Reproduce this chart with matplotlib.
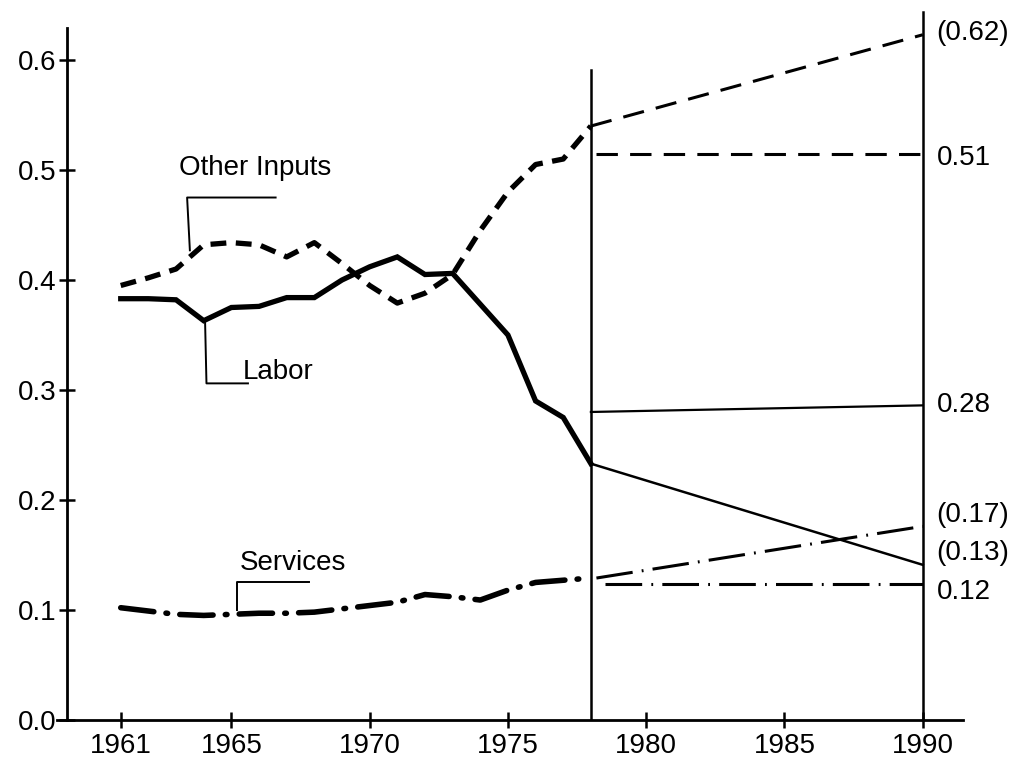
import matplotlib
matplotlib.use('Agg')
import matplotlib.pyplot as plt
import numpy as np

#historical data, one value per year
years = np.arange(1961, 1979)
labor = [0.383, 0.383, 0.382, 0.363, 0.375, 0.376, 0.384, 0.384, 0.400,
         0.412, 0.421, 0.405, 0.406, 0.378, 0.350, 0.290, 0.275, 0.233]
other = [0.395, 0.402, 0.410, 0.432, 0.434, 0.432, 0.421, 0.434, 0.415,
         0.395, 0.379, 0.388, 0.405, 0.445, 0.480, 0.505, 0.510, 0.540]
services = [0.102, 0.099, 0.096, 0.095, 0.096, 0.097, 0.097, 0.098, 0.101,
            0.104, 0.107, 0.114, 0.112, 0.109, 0.118, 0.125, 0.127, 0.129]

#projections 1978 -> 1990
proj_years = [1978, 1990]
labor_trend = [0.233, 0.141]
labor_const = [0.280, 0.286]
other_trend = [0.540, 0.623]
other_const = [0.515, 0.515]
serv_trend = [0.129, 0.176]
serv_const = [0.124, 0.124]

#labels at the right end
right_labels = ['(0.62)', '0.51', '0.28', '(0.17)', '(0.13)', '0.12']
right_pos = [0.625, 0.511, 0.286, 0.186, 0.152, 0.116]

xticks = [1961, 1965, 1970, 1975, 1980, 1985, 1990]
yticks = [0.0, 0.1, 0.2, 0.3, 0.4, 0.5, 0.6]

plt.rcParams['font.family'] = ['Liberation Sans', 'DejaVu Sans']

fig = plt.figure(figsize=(10.2, 7.61), dpi=100)
ax = fig.add_axes([0.056, 0.054, 0.888, 0.909])

#historical lines, thick
ax.plot(years, labor, 'k-', lw=3.8, solid_joinstyle='miter')
ax.plot(years, other, color='k', lw=3.8, linestyle=(0, (3, 1.8)))
ax.plot(years, services, color='k', lw=4, linestyle=(0, (6, 2.2, 0.3, 2.2)),
        dash_capstyle='round')

#projection lines, thinner
ax.plot(proj_years, labor_trend, 'k-', lw=1.8)
ax.plot([1978, 1990], labor_const, 'k-', lw=1.6)
ax.plot(proj_years, other_trend, color='k', lw=2.2, linestyle=(0, (7, 4)))
ax.plot([1978.2, 1990], other_const, color='k', lw=2.2, linestyle=(0, (7, 4)))
ax.plot([1978.2, 1990], serv_trend, color='k', lw=2.2,
        linestyle=(0, (12, 3, 0.6, 3)))
ax.plot([1978.5, 1990], serv_const, color='k', lw=2.2,
        linestyle=(0, (12, 3, 0.6, 3)))

#the two vertical lines
ax.plot([1978, 1978], [0, 0.591], 'k-', lw=1.8)
ax.plot([1990, 1990], [0, 0.644], 'k-', lw=1.8, clip_on=False)

#series labels with their leaders
ax.text(1963.1, 0.502, 'Other Inputs', fontsize=20, va='center')
ax.plot([1966.6, 1963.4, 1963.5], [0.475, 0.475, 0.427], 'k-', lw=1.4)
ax.text(1965.4, 0.316, 'Labor', fontsize=20, va='center')
ax.plot([1964.05, 1964.1, 1965.6], [0.362, 0.306, 0.306], 'k-', lw=1.4)
ax.text(1965.3, 0.143, 'Services', fontsize=20, va='center')
ax.plot([1965.2, 1965.2, 1967.8], [0.1, 0.125, 0.125], 'k-', lw=1.4)

for t, v in zip(right_labels, right_pos):
    ax.text(1990.5, v, t, fontsize=20, va='center', clip_on=False)

#axes look
ax.set_xlim(1958.7, 1991.45)
ax.set_ylim(0, 0.629)
ax.spines['top'].set_visible(False)
ax.spines['right'].set_visible(False)
ax.spines['left'].set_position(('data', 1959.05))
ax.spines['left'].set_linewidth(2)
ax.spines['bottom'].set_linewidth(2)
ax.set_xticks(xticks)
ax.set_yticks(yticks)
ax.set_yticklabels(['%.1f' % v for v in yticks])
ax.tick_params(axis='both', direction='inout', length=11, width=1.8,
               labelsize=20)
ax.tick_params(axis='y', pad=2)
ax.tick_params(axis='x', pad=4)

plt.savefig('out.png', dpi=100)
